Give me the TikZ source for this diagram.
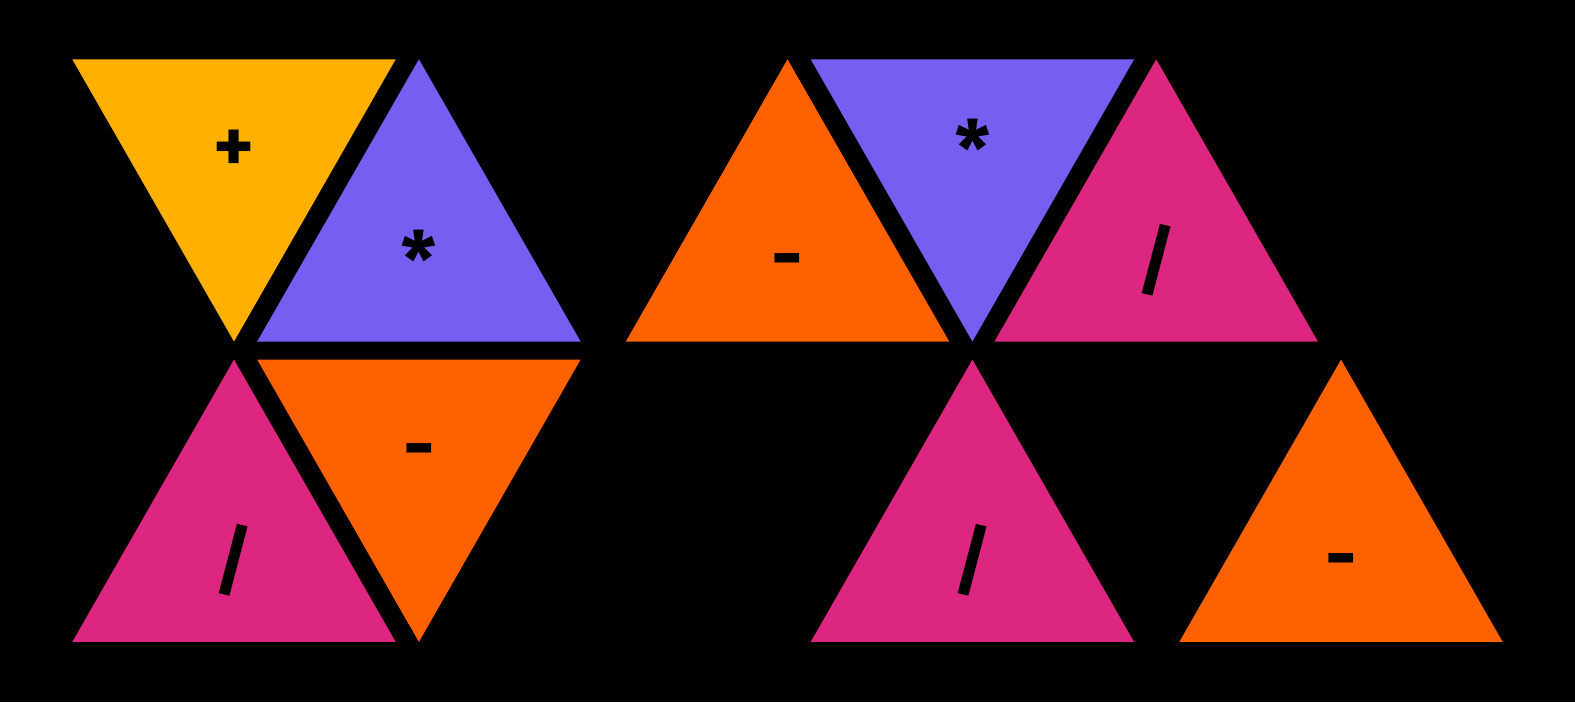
\documentclass[tikz,border=0pt]{standalone}
\usepackage{fontspec}
\setmainfont{Fira Sans}
\usepackage{tikz}
\usetikzlibrary{positioning}
\definecolor{ibmyellow}{HTML}{FFB000}
\definecolor{ibmpurple}{HTML}{785EF0}
\definecolor{ibmmagenta}{HTML}{DC267F}
\definecolor{ibmorange}{HTML}{FE6100}

\begin{document}
\begin{tikzpicture}[
  x=0.01cm, y=-0.01cm,
  tri/.style={draw=none},
  oplabel/.style={anchor=base, inner sep=0pt, text=black,
    font=\fontsize{22}{26}\selectfont\bfseries}
]

% Háttér
\fill[black] (0,0) rectangle (1575,702);
\useasboundingbox (0,0) rectangle (1575,702);

% Bal csoport
\fill[tri, ibmyellow] (72.3,59.3) -- (395.7,59.3) -- (234.0,341.5) -- cycle;
\node[oplabel] (plusL) at (234.0,172.3) {+};

\fill[tri, ibmpurple] (418.9,59.3) -- (580.6,341.5) -- (257.2,341.5) -- cycle;
\node[oplabel] (timesL) at (418.9,287.0) {*};

\fill[tri, ibmmagenta] (234.0,359.6) -- (395.7,641.9) -- (72.3,641.9) -- cycle;
\node[oplabel] (divL) at (234.0,587.1) {/};

\fill[tri, ibmorange] (257.2,359.6) -- (580.6,359.6) -- (418.9,641.9) -- cycle;
\node[oplabel] (minusL) at (418.9,472.6) {-};

% Jobb csoport
\fill[tri, ibmorange] (787.5,59.3) -- (949.2,341.5) -- (625.8,341.5) -- cycle;
\node[oplabel] (minusR) at (787.5,282.5) {-};

\fill[tri, ibmpurple] (810.7,59.3) -- (1134.1,59.3) -- (972.4,341.5) -- cycle;
\node[oplabel] (timesR) at (972.4,176.3) {*};

\fill[tri, ibmmagenta] (1156.2,59.3) -- (1317.9,341.5) -- (994.5,341.5) -- cycle;
\node[oplabel] (divR) at (1156.2,287.5) {/};

\fill[tri, ibmmagenta] (972.4,359.6) -- (1134.1,641.9) -- (810.7,641.9) -- cycle;
\node[oplabel] (divRb) at (972.4,587.1) {/};

\fill[tri, ibmorange] (1341.0,359.6) -- (1502.7,641.9) -- (1179.3,641.9) -- cycle;
\node[oplabel] (minusRb) at (1341.0,582.8) {-};

\end{tikzpicture}
\end{document}
